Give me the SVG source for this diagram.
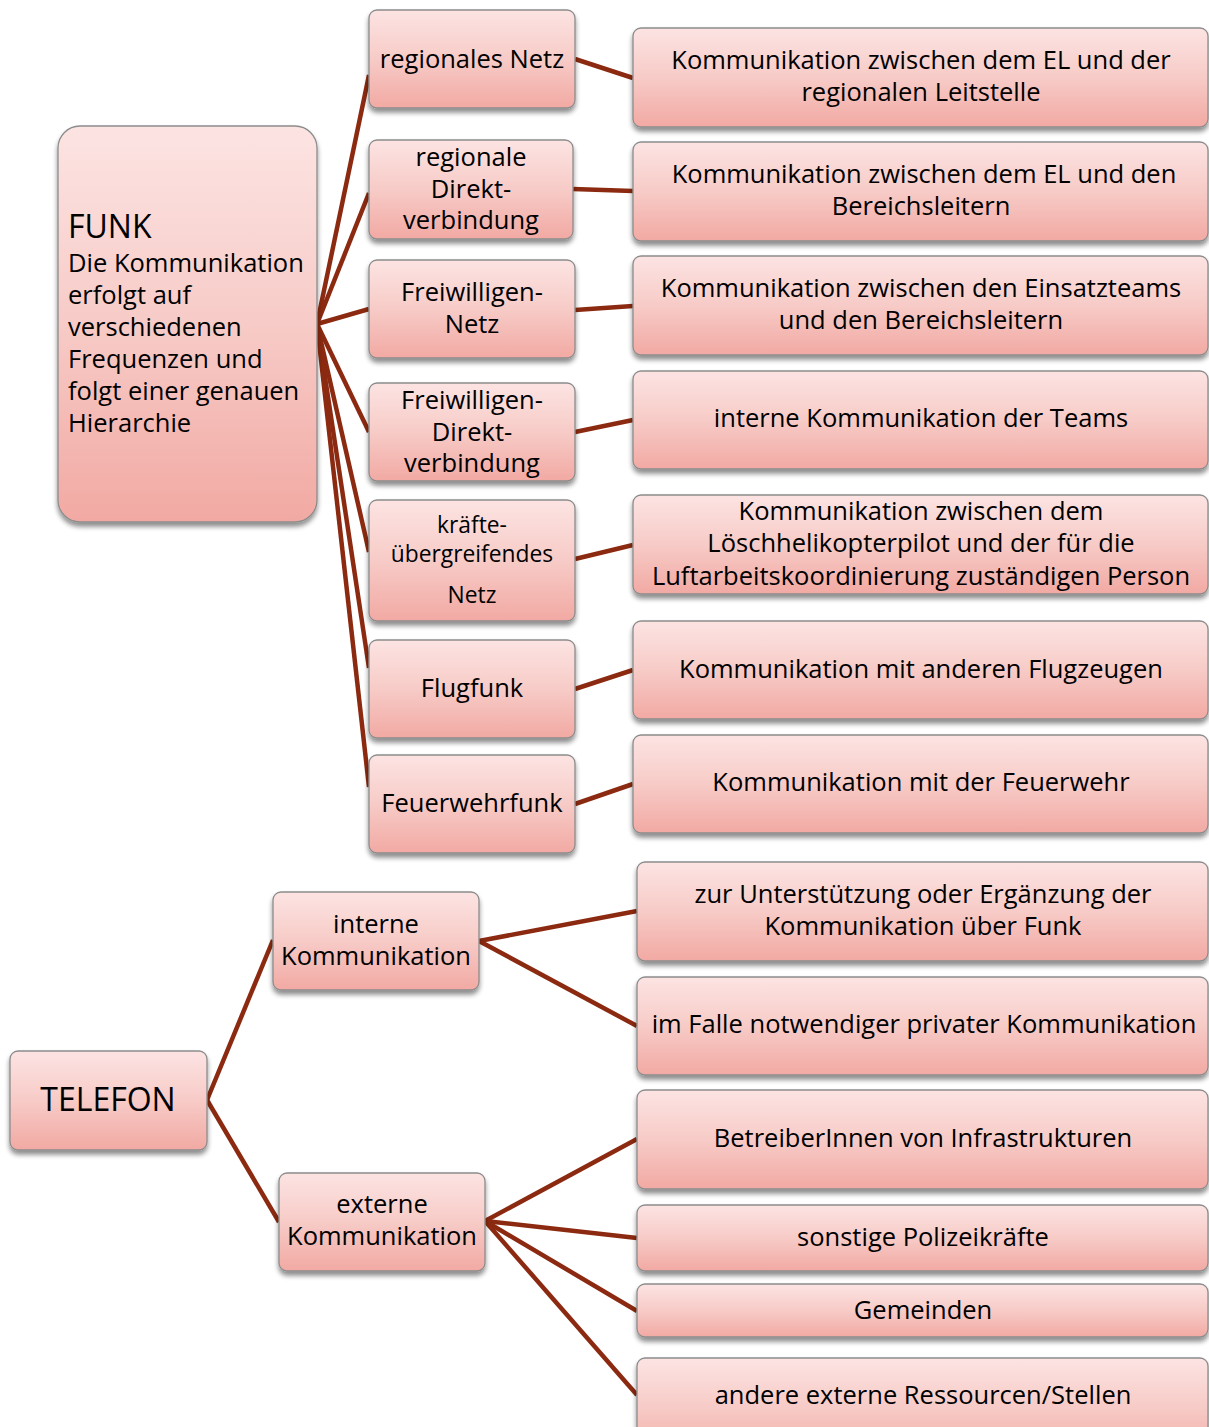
<svg xmlns="http://www.w3.org/2000/svg" width="1209" height="1427" viewBox="0 0 1209 1427">
  <defs>
    <linearGradient id="boxFill" x1="0" y1="0" x2="0" y2="1">
      <stop offset="0" stop-color="#fce4e3"/>
      <stop offset="0.5" stop-color="#f7cbc7"/>
      <stop offset="1" stop-color="#f2a9a3"/>
    </linearGradient>
    <filter id="shadow" x="-10%" y="-10%" width="120%" height="130%">
      <feGaussianBlur in="SourceAlpha" stdDeviation="2.5"/>
      <feOffset dx="0" dy="4" result="b"/>
      <feComponentTransfer><feFuncA type="linear" slope="0.45"/></feComponentTransfer>
      <feMerge><feMergeNode/><feMergeNode in="SourceGraphic"/></feMerge>
    </filter>
  </defs>
  <style>
    .box { fill: url(#boxFill); stroke: #8c8c8c; stroke-width: 1.3; filter: url(#shadow); }
    .t { font-family: "Open Sans", "Liberation Sans", sans-serif; font-size: 25.5px; fill: #000; text-anchor: middle; }
    .tl { font-family: "Open Sans", "Liberation Sans", sans-serif; font-size: 25.5px; fill: #000; }
    .small { font-size: 22.8px; }
    .edge { stroke: #8b2a10; stroke-width: 4.5; fill: none; stroke-linecap: butt; }
  </style>
  <rect width="1209" height="1427" fill="#ffffff"/>

  <!-- connectors -->
  <g id="connectors">
    <line class="edge" x1="317" y1="324" x2="369" y2="75"/>
    <line class="edge" x1="317" y1="324" x2="369" y2="193"/>
    <line class="edge" x1="317" y1="324" x2="369" y2="309"/>
    <line class="edge" x1="317" y1="324" x2="369" y2="432"/>
    <line class="edge" x1="317" y1="324" x2="369" y2="552"/>
    <line class="edge" x1="317" y1="324" x2="369" y2="668"/>
    <line class="edge" x1="317" y1="324" x2="369" y2="787"/>

    <line class="edge" x1="575" y1="59" x2="633" y2="78"/>
    <line class="edge" x1="573" y1="189" x2="633" y2="191"/>
    <line class="edge" x1="575" y1="310" x2="633" y2="306"/>
    <line class="edge" x1="575" y1="432" x2="633" y2="420"/>
    <line class="edge" x1="575" y1="559" x2="633" y2="545"/>
    <line class="edge" x1="575" y1="689" x2="633" y2="670"/>
    <line class="edge" x1="575" y1="804" x2="633" y2="784"/>

    <line class="edge" x1="207" y1="1100" x2="273" y2="940"/>
    <line class="edge" x1="207" y1="1100" x2="279" y2="1222"/>
    <line class="edge" x1="479" y1="941" x2="637" y2="911"/>
    <line class="edge" x1="479" y1="941" x2="637" y2="1026"/>
    <line class="edge" x1="485" y1="1221" x2="637" y2="1139"/>
    <line class="edge" x1="485" y1="1221" x2="637" y2="1238"/>
    <line class="edge" x1="485" y1="1221" x2="637" y2="1311"/>
    <line class="edge" x1="485" y1="1221" x2="637" y2="1395"/>
  </g>

  <!-- FUNK branch -->
  <g id="funk">
    <rect class="box" x="58" y="126" width="259" height="396" rx="22"/>
    <text class="tl" x="68" y="238" style="font-size:32px">FUNK</text>
    <text class="tl" x="68" y="272">Die Kommunikation</text>
    <text class="tl" x="68" y="304">erfolgt auf</text>
    <text class="tl" x="68" y="336">verschiedenen</text>
    <text class="tl" x="68" y="368">Frequenzen und</text>
    <text class="tl" x="68" y="400">folgt einer genauen</text>
    <text class="tl" x="68" y="432">Hierarchie</text>
  </g>

  <g id="regionales-netz">
    <rect class="box" x="369" y="10" width="206" height="98" rx="8"/>
    <text class="t" x="472" y="68">regionales Netz</text>
  </g>
  <g id="regionale-direktverbindung">
    <rect class="box" x="369" y="140" width="204" height="99" rx="8"/>
    <text class="t" x="471" y="166">regionale</text>
    <text class="t" x="471" y="198">Direkt-</text>
    <text class="t" x="471" y="229">verbindung</text>
  </g>
  <g id="freiwilligen-netz">
    <rect class="box" x="369" y="260" width="206" height="98" rx="8"/>
    <text class="t" x="472" y="301">Freiwilligen-</text>
    <text class="t" x="472" y="333">Netz</text>
  </g>
  <g id="freiwilligen-direktverbindung">
    <rect class="box" x="369" y="383" width="206" height="98" rx="8"/>
    <text class="t" x="472" y="409">Freiwilligen-</text>
    <text class="t" x="472" y="441">Direkt-</text>
    <text class="t" x="472" y="472">verbindung</text>
  </g>
  <g id="kraefteuebergreifendes-netz">
    <rect class="box" x="369" y="500" width="206" height="121" rx="8"/>
    <text class="t small" x="472" y="533">kräfte-</text>
    <text class="t small" x="472" y="562">übergreifendes</text>
    <text class="t small" x="472" y="603">Netz</text>
  </g>
  <g id="flugfunk">
    <rect class="box" x="369" y="640" width="206" height="98" rx="8"/>
    <text class="t" x="472" y="697">Flugfunk</text>
  </g>
  <g id="feuerwehrfunk">
    <rect class="box" x="369" y="755" width="206" height="98" rx="8"/>
    <text class="t" x="472" y="812">Feuerwehrfunk</text>
  </g>

  <g id="el-leitstelle">
    <rect class="box" x="633" y="28" width="575" height="99" rx="8"/>
    <text class="t" x="921" y="69">Kommunikation zwischen dem EL und der</text>
    <text class="t" x="921" y="101">regionalen Leitstelle</text>
  </g>
  <g id="el-bereichsleiter">
    <rect class="box" x="633" y="142" width="575" height="99" rx="8"/>
    <text class="t" x="924" y="183">Kommunikation zwischen dem EL und den</text>
    <text class="t" x="921" y="215">Bereichsleitern</text>
  </g>
  <g id="einsatzteams-bereichsleiter">
    <rect class="box" x="633" y="256" width="575" height="99" rx="8"/>
    <text class="t" x="921" y="297">Kommunikation zwischen den Einsatzteams</text>
    <text class="t" x="921" y="329">und den Bereichsleitern</text>
  </g>
  <g id="interne-teams">
    <rect class="box" x="633" y="371" width="575" height="98" rx="8"/>
    <text class="t" x="921" y="427">interne Kommunikation der Teams</text>
  </g>
  <g id="loeschhelikopter">
    <rect class="box" x="633" y="495" width="575" height="99" rx="8"/>
    <text class="t" x="921" y="520">Kommunikation zwischen dem</text>
    <text class="t" x="921" y="552">Löschhelikopterpilot und der für die</text>
    <text class="t" x="921" y="585">Luftarbeitskoordinierung zuständigen Person</text>
  </g>
  <g id="flugzeuge">
    <rect class="box" x="633" y="621" width="575" height="98" rx="8"/>
    <text class="t" x="921" y="678">Kommunikation mit anderen Flugzeugen</text>
  </g>
  <g id="feuerwehr">
    <rect class="box" x="633" y="735" width="575" height="98" rx="8"/>
    <text class="t" x="921" y="791">Kommunikation mit der Feuerwehr</text>
  </g>

  <!-- TELEFON branch -->
  <g id="telefon">
    <rect class="box" x="10" y="1051" width="197" height="99" rx="8"/>
    <text class="t" x="108" y="1111" style="font-size:32px">TELEFON</text>
  </g>
  <g id="interne-kommunikation">
    <rect class="box" x="273" y="892" width="206" height="98" rx="8"/>
    <text class="t" x="376" y="933">interne</text>
    <text class="t" x="376" y="965">Kommunikation</text>
  </g>
  <g id="externe-kommunikation">
    <rect class="box" x="279" y="1173" width="206" height="98" rx="8"/>
    <text class="t" x="382" y="1213">externe</text>
    <text class="t" x="382" y="1245">Kommunikation</text>
  </g>
  <g id="unterstuetzung-funk">
    <rect class="box" x="637" y="862" width="571" height="99" rx="8"/>
    <text class="t" x="923" y="903">zur Unterstützung oder Ergänzung der</text>
    <text class="t" x="923" y="935">Kommunikation über Funk</text>
  </g>
  <g id="private-kommunikation">
    <rect class="box" x="637" y="977" width="571" height="98" rx="8"/>
    <text class="t" x="924" y="1033">im Falle notwendiger privater Kommunikation</text>
  </g>
  <g id="betreiber">
    <rect class="box" x="637" y="1090" width="571" height="99" rx="8"/>
    <text class="t" x="923" y="1147">BetreiberInnen von Infrastrukturen</text>
  </g>
  <g id="polizeikraefte">
    <rect class="box" x="637" y="1205" width="571" height="66" rx="8"/>
    <text class="t" x="923" y="1246">sonstige Polizeikräfte</text>
  </g>
  <g id="gemeinden">
    <rect class="box" x="637" y="1284" width="571" height="53" rx="8"/>
    <text class="t" x="923" y="1319">Gemeinden</text>
  </g>
  <g id="andere-stellen">
    <rect class="box" x="637" y="1358" width="571" height="99" rx="8"/>
    <text class="t" x="923" y="1404">andere externe Ressourcen/Stellen</text>
  </g>
</svg>
